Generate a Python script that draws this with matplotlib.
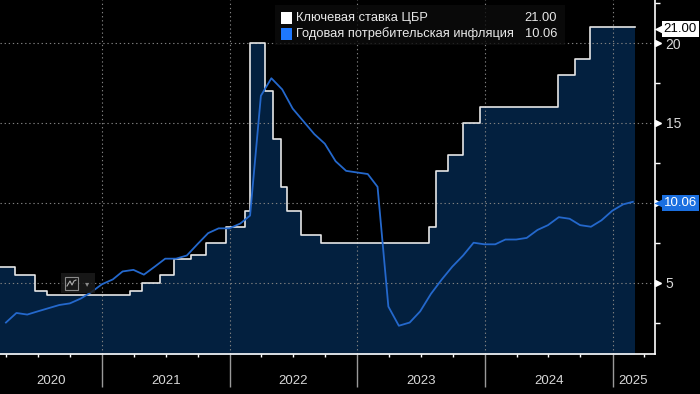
import numpy as np
import pandas as pd
import matplotlib
matplotlib.use('Agg')
import matplotlib.pyplot as plt
import matplotlib.dates as mdates
import matplotlib.transforms as mtrans
from matplotlib.patches import Rectangle
from matplotlib.lines import Line2D

# CBR key rate: date of change -> new level
rate_dates = ['2020-02-10', '2020-04-27', '2020-06-22', '2020-07-27', '2021-03-22',
              '2021-04-26', '2021-06-15', '2021-07-26', '2021-09-13', '2021-10-25',
              '2021-12-20', '2022-02-14', '2022-02-28', '2022-04-11', '2022-05-04',
              '2022-05-27', '2022-06-14', '2022-07-25', '2022-09-19', '2023-07-24',
              '2023-08-15', '2023-09-18', '2023-10-30', '2023-12-18', '2024-07-29',
              '2024-09-16', '2024-10-28', '2025-03-07']
rate_vals = [6.00, 5.50, 4.50, 4.25, 4.50,
             5.00, 5.50, 6.50, 6.75, 7.50,
             8.50, 9.50, 20.00, 17.00, 14.00,
             11.00, 9.50, 8.00, 7.50, 8.50,
             12.00, 13.00, 15.00, 16.00, 18.00,
             19.00, 21.00, 21.00]

# annual CPI inflation, month ends Mar 2020 .. Feb 2025
cpi_start, cpi_end = '2020-03-31', '2025-02-28'
cpi_vals = [2.5, 3.1, 3.0, 3.2, 3.4, 3.6, 3.7, 4.0, 4.4, 4.9,
            5.2, 5.7, 5.8, 5.5, 6.0, 6.5, 6.5, 6.7, 7.4, 8.1, 8.4, 8.4,
            8.7, 9.2, 16.7, 17.8, 17.1, 15.9, 15.1, 14.3, 13.7, 12.6, 12.0, 11.9,
            11.8, 11.0, 3.5, 2.3, 2.5, 3.2, 4.3, 5.2, 6.0, 6.7, 7.5, 7.4,
            7.4, 7.7, 7.7, 7.8, 8.3, 8.6, 9.1, 9.0, 8.6, 8.5, 8.9, 9.5,
            9.9, 10.06]

years = [2020, 2021, 2022, 2023, 2024, 2025]
yticks = [5, 10, 15, 20]
ytick_labels = ['5', '', '15', '20']   # "10" sits under the inflation tag
rate_name = 'Ключевая ставка ЦБР'
cpi_name = 'Годовая потребительская инфляция'

xmin, xmax = pd.Timestamp('2020-03-14'), pd.Timestamp('2025-05-01')

rd = pd.to_datetime(rate_dates)
cd = pd.date_range(cpi_start, cpi_end, freq='ME')

fg = '#d8d8d8'
navy = '#03203f'
blue_line = '#2468cc'
blue_box = '#1a6fe0'

fig = plt.figure(figsize=(7, 3.94), dpi=100, facecolor='black')
ax = fig.add_axes([0, 0.1003, 0.935, 0.8997])
ax.set_facecolor('black')

ax.fill_between(rd, rate_vals, 0, step='post', color=navy, lw=0, zorder=1)
ax.step(rd, rate_vals, where='post', color='#e6e6e6', lw=1.2, zorder=3)
ax.plot(cd, cpi_vals, color=blue_line, lw=1.3, zorder=4)

ax.set_xlim(xmin, xmax)
ax.set_ylim(0.5, 22.7)

# grid
for y in yticks:
    ax.axhline(y, color='#808080', lw=0.8, ls=(0, (1.2, 2.5)), zorder=2)
for yr in years[1:]:
    ax.axvline(pd.Timestamp(f'{yr}-01-01'), color='#808080', lw=0.8, ls=(0, (1.2, 2.5)), zorder=2)

# spines
for s in ['top', 'left']:
    ax.spines[s].set_visible(False)
ax.spines['bottom'].set_color('white')
ax.spines['right'].set_color('white')
ax.spines['bottom'].set_linewidth(1.2)
ax.spines['right'].set_linewidth(1.2)

# x axis: long separators at year starts, short quarter ticks
ax.xaxis.set_major_locator(mdates.YearLocator())
ax.xaxis.set_minor_locator(mdates.MonthLocator(bymonth=[1, 4, 7, 10]))
ax.xaxis.set_major_formatter(plt.NullFormatter())
ax.tick_params(axis='x', which='major', length=24, color='#9a9a9a', width=1)
ax.tick_params(axis='x', which='minor', length=2.5, color='white', width=1)

xt = mtrans.blended_transform_factory(ax.transData, ax.transAxes)
for yr in years:
    a = max(pd.Timestamp(f'{yr}-01-01'), xmin)
    b = min(pd.Timestamp(f'{yr + 1}-01-01'), xmax)
    mid = a + (b - a) / 2
    ax.text(mid, -0.075, str(yr), transform=xt, ha='center', va='center',
            color=fg, fontsize=9.5, family='Liberation Sans')

# y axis on the right
ax.yaxis.tick_right()
ax.set_yticks(yticks)
ax.set_yticklabels(ytick_labels)
ax.set_yticks([2.5, 7.5, 12.5, 17.5, 22.5], minor=True)
ax.tick_params(axis='y', which='major', length=0, pad=8, labelcolor=fg, labelsize=10)
ax.tick_params(axis='y', which='minor', length=3.5, color='white', width=1)
for lb in ax.get_yticklabels():
    lb.set_family('Liberation Sans')

yt = mtrans.blended_transform_factory(ax.transAxes, ax.transData)
tri = mtrans.offset_copy(yt, fig=fig, x=3.5, y=0, units='dots')
ax.plot([1] * len(yticks), yticks, linestyle='none', marker='>', ms=5,
        color='white', transform=tri, clip_on=False, zorder=6)

# last value tags
def tag(val, text, face, tcol):
    pos = mtrans.offset_copy(yt, fig=fig, x=9, y=-1.5, units='dots')
    ax.text(1, val, text, transform=pos, ha='left', va='center', fontsize=9.5,
            family='Liberation Sans', color=tcol, zorder=8, clip_on=False,
            bbox=dict(boxstyle='square,pad=0.15', fc=face, ec='none'))
    tip = mtrans.offset_copy(yt, fig=fig, x=5, y=-1.5, units='dots')
    ax.plot([1], [val], marker='<', ms=9, color=face, mec='none',
            transform=tip, clip_on=False, zorder=7)

tag(rate_vals[-1], f'{rate_vals[-1]:.2f}', 'white', 'black')
tag(cpi_vals[-1], f'{cpi_vals[-1]:.2f}', blue_box, 'white')

# legend box
W, H = 700, 394
def fx(px):
    return px / W
def fy(py):
    return 1 - py / H

fig.patches.append(Rectangle((fx(275), fy(45)), fx(565) - fx(275), fy(5) - fy(45),
                             transform=fig.transFigure, fc='#0c0c0c', ec='none',
                             alpha=0.8, zorder=5))
for row, (name, val, col) in enumerate([(rate_name, rate_vals[-1], 'white'),
                                         (cpi_name, cpi_vals[-1], '#1e78ff')]):
    cy = 18 + row * 16
    fig.patches.append(Rectangle((fx(281), fy(cy + 5.5)), fx(11), 11 / H,
                                 transform=fig.transFigure, fc=col, ec='none', zorder=6))
    fig.text(fx(296), fy(cy), name, ha='left', va='center', color='#e8e8e8',
             fontsize=9.3, family='Liberation Sans', zorder=7)
    fig.text(fx(557), fy(cy), f'{val:.2f}', ha='right', va='center', color='#e8e8e8',
             fontsize=9.3, family='Liberation Sans', zorder=7)

# small chart-type widget left over from the terminal
fig.patches.append(Rectangle((fx(61), fy(293)), fx(34), 20 / H, transform=fig.transFigure,
                             fc='#1c1c1c', ec='none', alpha=0.85, zorder=5))
fig.patches.append(Rectangle((fx(65), fy(290)), fx(13), 13 / H, transform=fig.transFigure,
                             fc='none', ec='#8a8a8a', lw=0.8, zorder=6))
fig.lines.append(Line2D([fx(67), fx(70), fx(72), fx(74), fx(76)],
                        [fy(286), fy(281), fy(285), fy(281), fy(280)],
                        transform=fig.transFigure, color='#b0b0b0', lw=0.8, zorder=6))
fig.text(fx(87), fy(284), '▾', ha='center', va='center', color='#8a8a8a',
         fontsize=6, zorder=7)

fig.savefig('out.png', dpi=100, facecolor='black')
